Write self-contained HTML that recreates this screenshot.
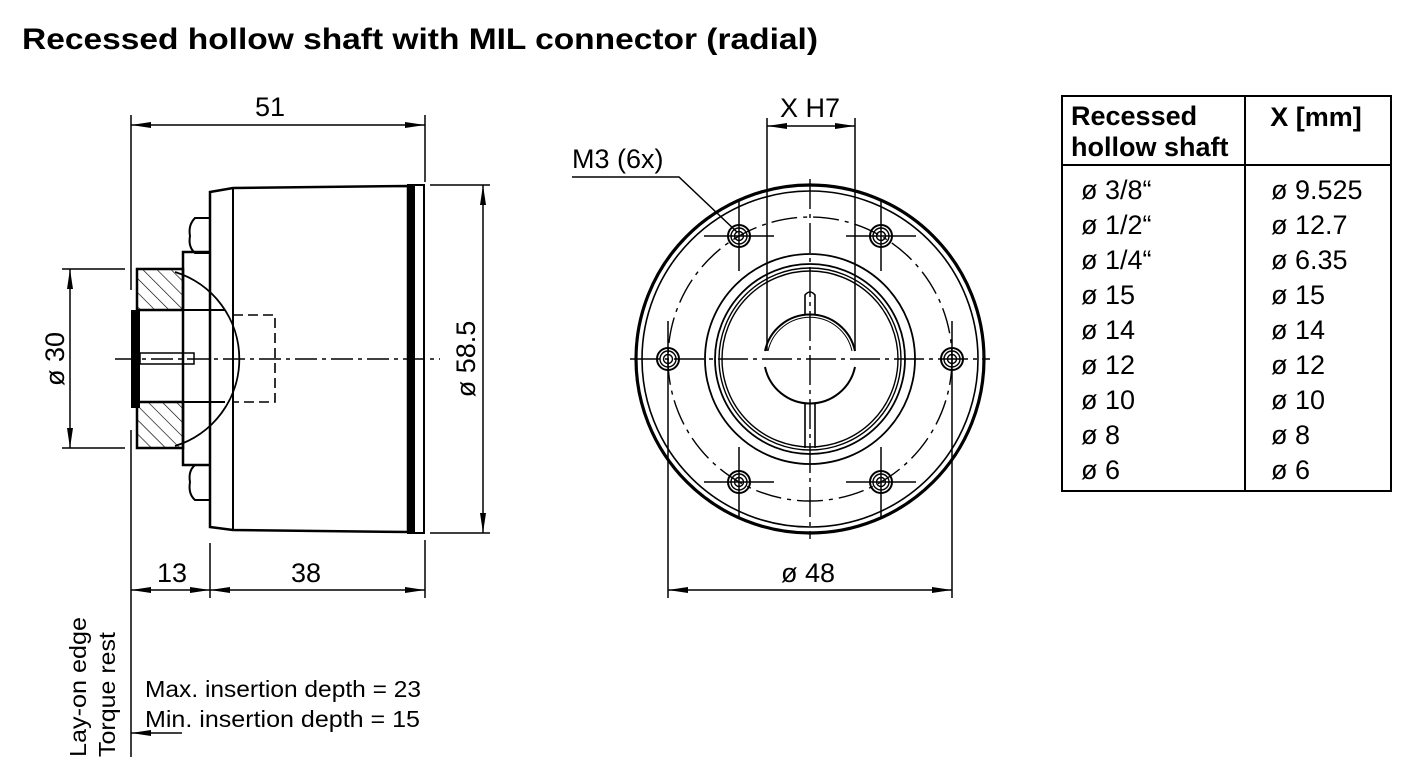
<!DOCTYPE html>
<html><head><meta charset="utf-8"><style>
html,body{margin:0;padding:0;background:#fff;}
svg{display:block;font-family:"Liberation Sans",Arial,sans-serif;}
</style></head><body>
<svg width="1417" height="780" viewBox="0 0 1417 780" xmlns="http://www.w3.org/2000/svg">
<defs>
<marker id="a" viewBox="0 0 20 8" refX="20" refY="4" markerWidth="20" markerHeight="8" markerUnits="userSpaceOnUse" orient="auto-start-reverse"><path d="M0,1 L20,4 L0,7 z" fill="#000"/></marker>
<pattern id="h" patternUnits="userSpaceOnUse" width="10" height="10" patternTransform="rotate(-45)"><line x1="0" y1="0" x2="0" y2="10" stroke="#000" stroke-width="1.3"/></pattern>
<g id="b" fill="none" stroke="#000"><circle r="11" stroke-width="2"/><circle r="8" stroke-width="1.4"/><circle r="4.5" stroke-width="1.4"/></g>
</defs>
<text x="22" y="49" font-size="30" font-weight="bold" textLength="796" lengthAdjust="spacingAndGlyphs">Recessed hollow shaft with MIL connector (radial)</text>

<g stroke="#000" fill="none" stroke-width="2">
<!-- left view -->
<path d="M210,192 L233,188 L408,186 L408,532 L233,530 L210,527 Z" stroke-width="2.5"/>
<line x1="233" y1="188" x2="233" y2="530"/>
<rect x="408" y="185" width="6" height="348" fill="#000"/>
<rect x="414" y="185" width="10" height="348" stroke-width="2"/>
<path d="M210,218 L195,218 Q188,225 190,236 Q188,247 195,253 L210,253"/>
<path d="M210,465 L195,465 Q188,471 190,482 Q188,494 195,500 L210,500"/>
<path d="M210,252 L183,252 L183,465 L210,465" stroke-width="2.5"/>
<rect x="137" y="269" width="46" height="41" fill="url(#h)" stroke-width="2.5"/>
<rect x="137" y="402" width="46" height="46" fill="url(#h)" stroke-width="2.5"/>
<rect x="131" y="310" width="9" height="98" fill="#000" stroke="none"/>
<line x1="140" y1="310" x2="225" y2="310"/>
<line x1="140" y1="402" x2="225" y2="402"/>
<path d="M175,272 A91,91 0 0 1 175,446" stroke-width="1.8"/>
<path d="M233,315 L275,315 L275,402 L233,402" stroke-dasharray="10,5" stroke-width="1.6"/>
<rect x="140" y="353" width="54" height="11" stroke-width="1.5"/>
<line x1="115" y1="359" x2="440" y2="359" stroke-dasharray="22,5,4,5" stroke-width="1.4"/>

<!-- dims left -->
<g stroke-width="1.5">
<line x1="131" y1="115" x2="131" y2="290"/>
<line x1="131" y1="430" x2="131" y2="757"/>
<line x1="425" y1="115" x2="425" y2="182"/>
<line x1="131" y1="125" x2="425" y2="125" marker-start="url(#a)" marker-end="url(#a)"/>
<line x1="430" y1="185" x2="490" y2="185"/>
<line x1="430" y1="533" x2="490" y2="533"/>
<line x1="483" y1="185" x2="483" y2="533" marker-start="url(#a)" marker-end="url(#a)"/>
<line x1="62" y1="269" x2="125" y2="269"/>
<line x1="62" y1="448" x2="125" y2="448"/>
<line x1="70" y1="269" x2="70" y2="448" marker-start="url(#a)" marker-end="url(#a)"/>
<line x1="210" y1="543" x2="210" y2="598"/>
<line x1="425" y1="540" x2="425" y2="598"/>
<line x1="131" y1="590" x2="210" y2="590" marker-start="url(#a)" marker-end="url(#a)"/>
<line x1="210" y1="590" x2="425" y2="590" marker-start="url(#a)" marker-end="url(#a)"/>
<line x1="182" y1="733" x2="131" y2="733" marker-end="url(#a)"/>
</g>

<!-- front view -->
<g transform="translate(810,359)">
<circle r="174" stroke-width="3.2"/>
<circle r="168" stroke-width="1.6"/>
<circle r="142" stroke-width="1.4" stroke-dasharray="26,6,4,6"/>
<circle r="105" stroke-width="1.8"/>
<circle r="95" stroke-width="1.8"/>
<circle r="91" stroke-width="1.4"/>
<circle r="88" stroke-width="1.4"/>
<path d="M-45,-8 A46,46 0 0 1 45,-8" stroke-width="2"/>
<path d="M-45,8 A46,46 0 0 0 45,8" stroke-width="2"/>
<path d="M-42,-8 A43,43 0 0 1 42,-8" stroke-width="1"/>
<path d="M-5,-44 L-5,-64 Q0,-70 5,-64 L5,-44" stroke-width="1.6"/>
<path d="M-5,45 L-5,89 M5,45 L5,89" stroke-width="1.6"/>
<line x1="-180" y1="0" x2="180" y2="0" stroke-width="1.4" stroke-dasharray="30,5,4,5"/>
<line x1="0" y1="-180" x2="0" y2="180" stroke-width="1.4" stroke-dasharray="30,5,4,5"/>
<use href="#b" x="-142" y="0"/><use href="#b" x="142" y="0"/>
<use href="#b" x="-71" y="-123"/><use href="#b" x="71" y="-123"/>
<use href="#b" x="-71" y="123"/><use href="#b" x="71" y="123"/>
<g stroke-width="1.5">
<path d="M-106,-123 H-36 M-71,-158 V-88 M36,-123 H106 M71,-158 V-88 M-106,123 H-36 M-71,88 V158 M36,123 H106 M71,88 V158 M-142,-38 V239 M142,-38 V239"/>
<path d="M-43,-8 V-241 M45,-8 V-241"/>
</g>
</g>
<g stroke-width="1.5">
<line x1="767" y1="126" x2="855" y2="126" marker-start="url(#a)" marker-end="url(#a)"/>
<line x1="668" y1="590" x2="952" y2="590" marker-start="url(#a)" marker-end="url(#a)"/>
<path d="M572,177 H679 L737,232"/>
</g>

<!-- table -->
<rect x="1062" y="96" width="329" height="395" stroke-width="2"/>
<line x1="1062" y1="165" x2="1391" y2="165" stroke-width="2"/>
<line x1="1245" y1="96" x2="1245" y2="491" stroke-width="2"/>
</g>

<g font-size="27">
<text x="270" y="116" text-anchor="middle">51</text>
<text x="172" y="582" text-anchor="middle">13</text>
<text x="306" y="582" text-anchor="middle">38</text>
<text transform="translate(475,359) rotate(-90)" text-anchor="middle">ø 58.5</text>
<text transform="translate(64,359) rotate(-90)" text-anchor="middle">ø 30</text>
<text x="810" y="117" text-anchor="middle">X H7</text>
<text x="572" y="168">M3 (6x)</text>
<text x="808" y="582" text-anchor="middle">ø 48</text>
</g>
<g font-size="23">
<text transform="translate(86,757) rotate(-90)" textLength="140" lengthAdjust="spacingAndGlyphs">Lay-on edge</text>
<text transform="translate(115,757) rotate(-90)" textLength="125" lengthAdjust="spacingAndGlyphs">Torque rest</text>
<text x="145" y="697" textLength="276" lengthAdjust="spacingAndGlyphs">Max. insertion depth = 23</text>
<text x="145" y="727" textLength="275" lengthAdjust="spacingAndGlyphs">Min.  insertion depth = 15</text>
</g>
<g font-size="27" font-weight="bold">
<text x="1071" y="125">Recessed</text>
<text x="1071" y="156">hollow shaft</text>
<text x="1316" y="126" text-anchor="middle">X [mm]</text>
</g>
<g font-size="27">
<text x="1081" y="199">ø 3/8“</text><text x="1271" y="199">ø 9.525</text>
<text x="1081" y="234">ø 1/2“</text><text x="1271" y="234">ø 12.7</text>
<text x="1081" y="269">ø 1/4“</text><text x="1271" y="269">ø 6.35</text>
<text x="1081" y="304">ø 15</text><text x="1271" y="304">ø 15</text>
<text x="1081" y="339">ø 14</text><text x="1271" y="339">ø 14</text>
<text x="1081" y="374">ø 12</text><text x="1271" y="374">ø 12</text>
<text x="1081" y="409">ø 10</text><text x="1271" y="409">ø 10</text>
<text x="1081" y="444">ø 8</text><text x="1271" y="444">ø 8</text>
<text x="1081" y="479">ø 6</text><text x="1271" y="479">ø 6</text>
</g>
</svg>
</body></html>
